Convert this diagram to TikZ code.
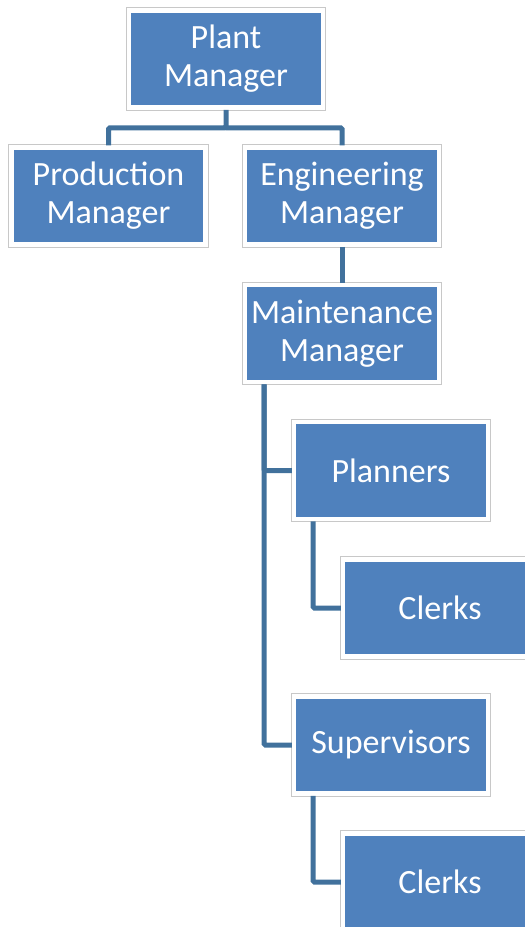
\documentclass[tikz,border=0pt]{standalone}
\usepackage{fontspec}
\setmainfont{Carlito}
\definecolor{boxblue}{HTML}{4F81BD}
\definecolor{linkblue}{HTML}{41719C}
\definecolor{rimgray}{HTML}{C8C8C8}

\begin{document}
\begin{tikzpicture}[x=1pt,y=-1pt]
\tikzstyle{every node}+=[inner sep=0pt]
\tikzstyle{orgbox}=[rectangle, fill=boxblue, draw=white, line width=4.5pt,
  preaction={draw=rimgray, line width=6.5pt},
  minimum width=194pt, minimum height=97pt, align=center, text=white,
  font=\fontsize{34}{38}\selectfont]
\tikzstyle{link}=[draw=linkblue, line width=5pt, rounded corners=1.5pt]
\useasboundingbox (0,0) rectangle (525,927);
\clip (0,0) rectangle (525,927);
% boxes
\node [orgbox] (plant) at (226,59) {Plant\\Manager};
\node [orgbox] (prod) at (108.5,196) {Production\\Manager};
\node [orgbox] (eng) at (342,196) {Engineering\\Manager};
\node [orgbox] (maint) at (342,333.5) {Maintenance\\Manager};
\node [orgbox] (plan) at (391,470.5) {Planners};
\node [orgbox] (clerka) at (440,608) {Clerks};
\node [orgbox] (sup) at (391,745) {Supervisors};
\node [orgbox] (clerkb) at (440,882) {Clerks};
% connectors
\coordinate (fork) at ([yshift=-18]plant.south);
\coordinate (mtrunk) at ([xshift=-78]maint.south);
\coordinate (ptrunk) at ([xshift=-78]plan.south);
\coordinate (strunk) at ([xshift=-78]sup.south);
\draw [link] (plant.south) -- (fork) -| (prod.north);
\draw [link] (fork) -| (eng.north);
\draw [link] (eng.south) -- (maint.north);
\draw [link] (mtrunk) |- (plan.west);
\draw [link] (mtrunk) |- (sup.west);
\draw [link] (ptrunk) |- (clerka.west);
\draw [link] (strunk) |- (clerkb.west);
\end{tikzpicture}
\end{document}
